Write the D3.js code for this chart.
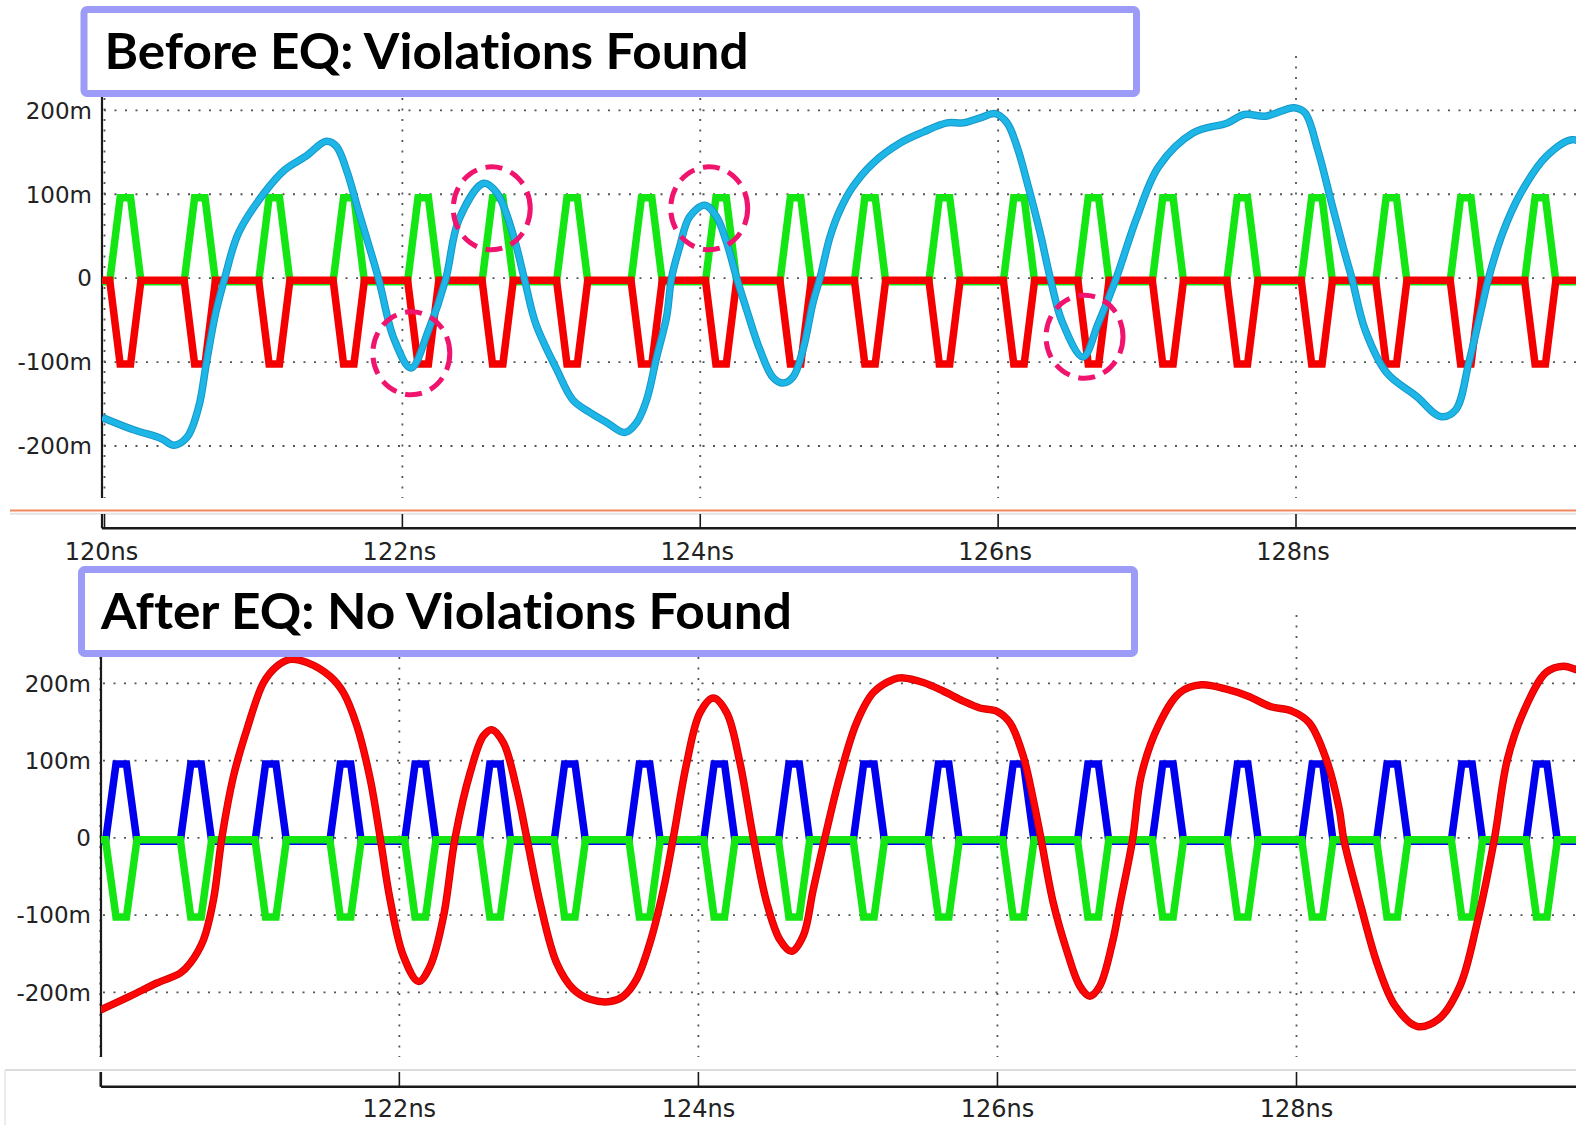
<!DOCTYPE html>
<html>
<head>
<meta charset="utf-8">
<script src="https://cdn.jsdelivr.net/npm/d3@7"></script>
<style>
  html, body { margin: 0; padding: 0; background: #fff; }
  svg { display: block; }
  .title { font-variant-ligatures: none; font-feature-settings: "liga" 0, "clig" 0; }
</style>
</head>
<body>
<svg id="chart" width="1576" height="1125"></svg>
<script>
// ---------------- data ----------------
// time axis (ns)
const timeTicks = [120, 122, 124, 126, 128];
const timeTickLabelsBefore = ["120ns", "122ns", "124ns", "126ns", "128ns"];
const timeTickLabelsAfter = ["", "122ns", "124ns", "126ns", "128ns"];
const timeDomain = [120, 128];
const timeSpan = [119.985, 130];

// voltage axis (V)
const voltTicks = [0.2, 0.1, 0, -0.1, -0.2];
const voltTickLabels = ["200m", "100m", "0", "-100m", "-200m"];

// panel titles
const panelTitles = ["Before EQ: Violations Found", "After EQ: No Violations Found"];

// start time (ns) of every data pulse in the stimulus pattern
const pulseStarts = [120.035, 120.535, 121.035, 121.535, 122.035, 122.535, 123.035, 123.535,
                     124.035, 124.535, 125.035, 125.535, 126.035, 126.535, 127.035, 127.535,
                     128.035, 128.535, 129.035, 129.535];
// pulse shape: offsets from the start (ns) and the fraction of the pulse amplitude
const pulseShapeT = [0, 0.07, 0.14, 0.21];
const pulseShapeV = [0, 1, 1, 0];
const pulseAmplitude = 0.1;

// received waveform before equalization: time (ns), voltage (mV)
const beforeT = [119.985, 120.20, 120.38, 120.466, 120.556, 120.633, 120.685, 120.747, 120.807, 120.90,
  121.07, 121.21, 121.35, 121.49, 121.557, 121.632, 121.697, 121.839, 121.943, 122.058,
  122.176, 122.29, 122.38, 122.547, 122.637, 122.74, 122.818, 122.895, 123.037,
  123.144, 123.258, 123.372, 123.493, 123.573, 123.64, 123.707, 123.774, 123.807, 123.861,
  123.928, 124.03, 124.11, 124.178, 124.245, 124.312, 124.40, 124.487, 124.555, 124.622,
  124.69, 124.757, 124.804, 124.871, 124.938, 125.025, 125.16, 125.342, 125.496, 125.657,
  125.765, 125.88, 125.98, 126.06, 126.128, 126.195, 126.282, 126.35, 126.43,
  126.57, 126.672, 126.789, 126.933, 127.078, 127.308, 127.54, 127.655, 127.795, 127.988,
  128.06, 128.146, 128.234, 128.321, 128.375, 128.465, 128.61, 128.81, 128.972, 129.072,
  129.16, 129.248, 129.29, 129.388, 129.508, 129.68, 129.853, 129.93];
const beforeMv = [-166, -181, -191, -199, -189, -153, -100, -41, 0, 54,
  101, 129, 145, 163, 157, 125, 85, 0, -72, -107,
  -62, -2, 70, 113, 101, 54, 0, -54, -109,
  -145, -160, -172, -184, -172, -145, -94, -46, 0, 37,
  73, 87, 73, 42, 0, -38, -85, -118, -125, -118,
  -85, -29, 0, 49, 81, 109, 137, 161, 174, 185,
  185, 191, 196, 185, 156, 114, 54, 0, -52,
  -94, -54, -2, 73, 133, 173, 185, 195, 193, 203,
  197, 153, 93, 34, 0, -62, -113, -141, -165, -157,
  -101, -34, -2, 54, 101, 145, 165, 160];

// received waveform after equalization: time (ns), voltage (mV)
const afterT = [120.0, 120.20, 120.379, 120.535, 120.602, 120.69, 120.757, 120.813, 120.891, 120.98,
  121.092, 121.18, 121.27, 121.382, 121.537, 121.626, 121.716, 121.805, 121.872, 121.938,
  122.027, 122.128, 122.206, 122.295, 122.373, 122.473, 122.562, 122.618, 122.696, 122.785,
  122.852, 122.941, 123.052, 123.164, 123.275, 123.409, 123.498, 123.587, 123.676, 123.766,
  123.832, 123.922, 124.011, 124.10, 124.189, 124.278, 124.367, 124.457, 124.545, 124.623,
  124.701, 124.768, 124.846, 124.947, 125.058, 125.17, 125.303, 125.37, 125.504, 125.637,
  125.771, 125.882, 125.994, 126.083, 126.172, 126.239, 126.29, 126.373, 126.462, 126.551,
  126.618, 126.684, 126.773, 126.817, 126.904, 126.961, 127.076, 127.22, 127.364, 127.537,
  127.681, 127.825, 127.969, 128.085, 128.20, 128.286, 128.316, 128.43, 128.545, 128.661,
  128.805, 128.949, 129.093, 129.208, 129.323, 129.41, 129.525, 129.67, 129.785, 129.866, 129.93];
const afterMv = [-223, -205, -188, -175, -162, -132, -80, 0, 80, 140,
  201, 222, 231, 227, 209, 188, 145, 76, 0, -80,
  -153, -186, -166, -102, 0, 84, 132, 140, 123, 63,
  0, -84, -162, -196, -209, -212, -205, -183, -136, -67,
  0, 97, 162, 181, 162, 97, 0, -84, -132, -147,
  -127, -67, 0, 80, 149, 188, 205, 207, 201, 190,
  177, 168, 164, 149, 106, 50, 0, -84, -145, -192,
  -205, -192, -132, -88, -2, 80, 145, 188, 198, 192,
  183, 170, 164, 149, 101, 37, -2, -88, -166, -218,
  -244, -235, -192, -110, -2, 101, 166, 214, 222, 218, 214];

// eye-mask violations flagged on the pre-equalization waveform: time (ns), voltage (mV)
const violationT = [122.06, 122.60, 124.06, 126.58];
const violationMv = [-89.5, 83.2, 83.2, -69.8];

// ---------------- layout ----------------
const W = 1576, H = 1125;
const svg = d3.select("#chart");
svg.append("rect").attr("width", W).attr("height", H).attr("fill", "#fff");

const layout = [
  { xRange: [104.5, 1296], yRange: [446, 110.3], plotTop: 56, plotBottom: 498, axisX: 102,
    xAxisY: 528.3, tickTop: 514, labelY: 551, labelShift: -3,
    box: [84, 9.5, 1052.5, 84], titleX: 104.5, titleY: 69, titleLen: 644,
    tickLabels: timeTickLabelsBefore },
  { xRange: [100.3, 1296.5], yRange: [992.3, 683.3], plotTop: 615, plotBottom: 1057, axisX: 101,
    xAxisY: 1086.7, tickTop: 1072, labelY: 1108.5, labelShift: 0,
    box: [81.5, 569.5, 1053, 84], titleX: 101, titleY: 629, titleLen: 691,
    tickLabels: timeTickLabelsAfter }
];

const colors = {
  grid: "#555",
  axis: "#1a1a1a",
  label: "#222",
  green: "#14e614",
  red: "#f50000",
  blue: "#0000ee",
  cyan: "#1db6e6",
  mark: "#f0146e",
  box: "#9c9cf8"
};

const scales = layout.map(L => ({
  x: d3.scaleLinear().domain(timeDomain).range(L.xRange),
  y: d3.scaleLinear().domain([-0.2, 0.2]).range(L.yRange)
}));

function pulseTrain(level) {
  const pts = [[timeSpan[0], 0]];
  pulseStarts.forEach(s => pulseShapeT.forEach((dt, i) => pts.push([s + dt, pulseShapeV[i] * level])));
  pts.push([timeSpan[1], 0]);
  return pts;
}

function waveform(ts, mv) {
  return ts.map((t, i) => [t, mv[i] / 1000]);
}

// ---------------- panels ----------------
layout.forEach((L, p) => {
  const { x, y } = scales[p];
  const g = svg.append("g");

  // clip region for the plotted traces
  const clipId = "clip" + p;
  svg.append("defs").append("clipPath").attr("id", clipId)
    .append("rect").attr("x", L.axisX).attr("y", L.plotTop)
    .attr("width", W - L.axisX).attr("height", L.plotBottom - L.plotTop);

  // dotted grid
  const grid = g.append("g").attr("stroke", colors.grid).attr("stroke-width", 1.8)
    .attr("stroke-dasharray", "2 8.5").attr("fill", "none");
  grid.selectAll("line.h").data(voltTicks).join("line").attr("class", "h")
    .attr("x1", L.axisX + 2).attr("x2", W)
    .attr("y1", d => y(d)).attr("y2", d => y(d));
  grid.selectAll("line.v").data(timeTicks).join("line").attr("class", "v")
    .attr("x1", d => x(d)).attr("x2", d => x(d))
    .attr("y1", L.plotTop).attr("y2", L.plotBottom);

  // y axis
  g.append("line").attr("x1", L.axisX).attr("x2", L.axisX)
    .attr("y1", L.plotTop).attr("y2", L.plotBottom)
    .attr("stroke", colors.axis).attr("stroke-width", 2.2);
  g.append("g").selectAll("text").data(voltTicks).join("text")
    .attr("x", L.axisX - 10).attr("y", d => y(d)).attr("dy", "0.36em")
    .attr("text-anchor", "end")
    .attr("font-family", "DejaVu Sans, sans-serif").attr("font-size", 23)
    .attr("fill", colors.label)
    .text((d, i) => voltTickLabels[i]);

  // traces
  const traces = g.append("g").attr("clip-path", `url(#${clipId})`);
  const pulseLine = d3.line().x(d => x(d[0])).y(d => y(d[1]));
  const smoothLine = d3.line().x(d => x(d[0])).y(d => y(d[1])).curve(d3.curveCatmullRom.alpha(0.5));

  const upColor = p === 0 ? colors.green : colors.blue;
  const downColor = p === 0 ? colors.red : colors.green;

  // the positive pulse train sits just beneath the negative one on the zero level
  traces.append("path").datum(pulseTrain(pulseAmplitude))
    .attr("transform", "translate(0,3.5)")
    .attr("d", pulseLine).attr("fill", "none")
    .attr("stroke", upColor).attr("stroke-width", 7.5).attr("stroke-linejoin", "miter");
  traces.append("path").datum(pulseTrain(-pulseAmplitude))
    .attr("transform", "translate(0,2)")
    .attr("d", pulseLine).attr("fill", "none")
    .attr("stroke", downColor).attr("stroke-width", 7.5).attr("stroke-linejoin", "miter");

  if (p === 0) {
    traces.append("path").datum(waveform(beforeT, beforeMv))
      .attr("d", smoothLine).attr("fill", "none")
      .attr("stroke", "#1497c8").attr("stroke-width", 7.5).attr("stroke-linejoin", "round");
    traces.append("path").datum(waveform(beforeT, beforeMv))
      .attr("d", smoothLine).attr("fill", "none")
      .attr("stroke", colors.cyan).attr("stroke-width", 5.5).attr("stroke-linejoin", "round");
  } else {
    traces.append("path").datum(waveform(afterT, afterMv))
      .attr("d", smoothLine).attr("fill", "none")
      .attr("stroke", "#d40000").attr("stroke-width", 7.5).attr("stroke-linejoin", "round");
    traces.append("path").datum(waveform(afterT, afterMv))
      .attr("d", smoothLine).attr("fill", "none")
      .attr("stroke", "#ff0606").attr("stroke-width", 5.5).attr("stroke-linejoin", "round");
  }

  // violation markers
  if (p === 0) {
    g.append("g").selectAll("ellipse").data(violationT).join("ellipse")
      .attr("cx", d => x(d)).attr("cy", (d, i) => y(violationMv[i] / 1000))
      .attr("rx", 38.5).attr("ry", 41.5)
      .attr("fill", "none").attr("stroke", colors.mark).attr("stroke-width", 5)
      .attr("stroke-dasharray", "17 9");
  }

  // x axis
  const ax = g.append("g");
  if (p === 0) {
    ax.append("line").attr("x1", 10).attr("x2", W).attr("y1", 510.5).attr("y2", 510.5)
      .attr("stroke", "#f0875e").attr("stroke-width", 2);
    ax.append("line").attr("x1", 10).attr("x2", W).attr("y1", 513.8).attr("y2", 513.8)
      .attr("stroke", "#e4e4e4").attr("stroke-width", 2);
  } else {
    ax.append("line").attr("x1", 5).attr("x2", W).attr("y1", 1070).attr("y2", 1070)
      .attr("stroke", "#dcdcdc").attr("stroke-width", 2);
    ax.append("line").attr("x1", 5).attr("x2", 5).attr("y1", 1070).attr("y2", H)
      .attr("stroke", "#e6e6e6").attr("stroke-width", 1.5);
  }
  ax.append("line").attr("x1", L.axisX).attr("x2", W)
    .attr("y1", L.xAxisY).attr("y2", L.xAxisY)
    .attr("stroke", colors.axis).attr("stroke-width", 2.4);
  ax.append("line").attr("x1", L.axisX).attr("x2", L.axisX)
    .attr("y1", L.tickTop).attr("y2", L.xAxisY)
    .attr("stroke", colors.axis).attr("stroke-width", 2.2);
  ax.selectAll("line.tick").data(timeTicks).join("line").attr("class", "tick")
    .attr("x1", d => x(d)).attr("x2", d => x(d))
    .attr("y1", L.tickTop).attr("y2", L.xAxisY)
    .attr("stroke", colors.axis).attr("stroke-width", 1.6);
  ax.selectAll("text").data(timeTicks).join("text")
    .attr("x", d => x(d) + L.labelShift).attr("y", L.labelY).attr("dy", "0.36em")
    .attr("text-anchor", "middle")
    .attr("font-family", "DejaVu Sans, sans-serif").attr("font-size", 24)
    .attr("fill", colors.label)
    .text((d, i) => L.tickLabels[i]);

  // title box drawn over the top of the plot
  const [bx, by, bw, bh] = L.box;
  g.append("rect").attr("x", bx).attr("y", by).attr("width", bw).attr("height", bh)
    .attr("rx", 3).attr("fill", "#fff")
    .attr("stroke", colors.box).attr("stroke-width", 7);
  g.append("text").attr("class", "title").attr("x", L.titleX).attr("y", L.titleY)
    .attr("font-family", "Lato, 'Open Sans', sans-serif").attr("font-weight", 700)
    .attr("font-size", 50).attr("fill", "#000")
    .attr("textLength", L.titleLen).attr("lengthAdjust", "spacingAndGlyphs")
    .text(panelTitles[p]);
});
</script>
</body>
</html>
